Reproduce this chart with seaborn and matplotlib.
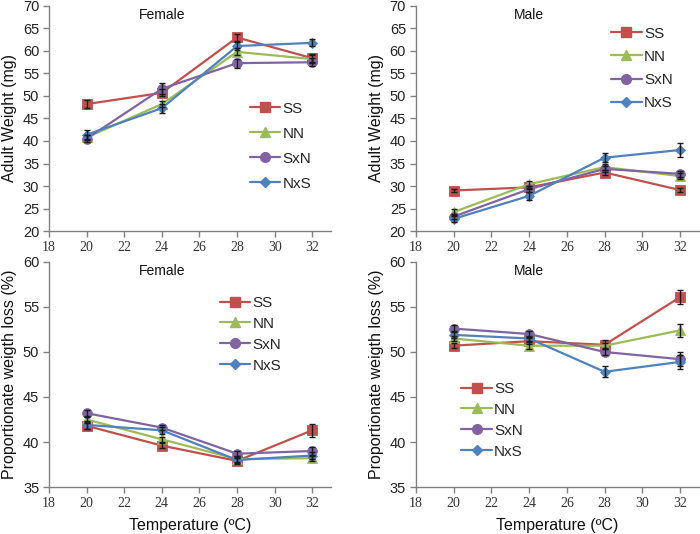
import numpy as np
import pandas as pd
import matplotlib
matplotlib.use("Agg")
import matplotlib.pyplot as plt
import seaborn as sns

temps = [20, 24, 28, 32]
genotypes = ["SS", "NN", "SxN", "NxS"]

# Adult weight (mg)
fw_SS = [48.2, 50.7, 63.0, 58.4]
fw_NN = [40.8, 48.2, 59.8, 58.2]
fw_SxN = [40.5, 51.6, 57.3, 57.5]
fw_NxS = [41.4, 47.3, 61.1, 61.8]
fw_err_SS = [0.8, 0.8, 0.8, 0.9]
fw_err_NN = [0.6, 0.7, 0.8, 0.8]
fw_err_SxN = [0.8, 1.2, 1.0, 0.9]
fw_err_NxS = [1.0, 1.0, 0.8, 0.8]

mw_SS = [29.0, 29.7, 33.0, 29.1]
mw_NN = [24.2, 30.4, 34.2, 32.2]
mw_SxN = [23.2, 29.3, 33.8, 32.7]
mw_NxS = [22.7, 27.8, 36.3, 38.0]
mw_err_SS = [0.4, 0.4, 0.5, 0.5]
mw_err_NN = [0.6, 0.8, 0.6, 0.7]
mw_err_SxN = [0.5, 0.6, 0.6, 0.6]
mw_err_NxS = [0.6, 0.8, 1.0, 1.6]

# Proportionate weight loss (%)
fl_SS = [41.8, 39.6, 37.9, 41.3]
fl_NN = [42.5, 40.3, 38.1, 38.2]
fl_SxN = [43.2, 41.6, 38.7, 39.0]
fl_NxS = [41.9, 41.3, 38.0, 38.5]
fl_err_SS = [0.4, 0.3, 0.3, 0.7]
fl_err_NN = [0.4, 0.3, 0.3, 0.3]
fl_err_SxN = [0.4, 0.3, 0.3, 0.4]
fl_err_NxS = [0.4, 0.4, 0.3, 0.4]

ml_SS = [50.7, 51.2, 50.8, 56.1]
ml_NN = [51.5, 50.7, 50.7, 52.4]
ml_SxN = [52.6, 52.0, 50.0, 49.2]
ml_NxS = [51.9, 51.5, 47.8, 48.9]
ml_err_SS = [0.3, 0.3, 0.5, 0.8]
ml_err_NN = [0.3, 0.4, 0.3, 0.7]
ml_err_SxN = [0.4, 0.3, 0.3, 0.8]
ml_err_NxS = [0.4, 0.3, 0.6, 0.8]

xticks = [18, 20, 22, 24, 26, 28, 30, 32]

colors = {"SS": "#C0504D", "NN": "#9BBB59", "SxN": "#8064A2", "NxS": "#4F81BD"}
markers = {"SS": "s", "NN": "^", "SxN": "o", "NxS": "D"}
msizes = {"SS": 7, "NN": 6.5, "SxN": 7, "NxS": 5}


def make_df(vals, errs):
    rows = []
    for g, v, e in zip(genotypes, vals, errs):
        for t, vv, ee in zip(temps, v, e):
            rows.append({"temp": t, "value": vv, "err": ee, "geno": g})
    return pd.DataFrame(rows)


panels = [
    dict(df=make_df([fw_SS, fw_NN, fw_SxN, fw_NxS], [fw_err_SS, fw_err_NN, fw_err_SxN, fw_err_NxS]),
         pos=[0.070, 0.5674, 0.403, 0.4214], ylim=(20, 70), yticks=np.arange(20, 71, 5),
         ylabel="Adult Weight (mg)", title="Female", title_y=68.0,
         leg=(0.357, 0.726), lsp=0.72, xlabel=False),
    dict(df=make_df([mw_SS, mw_NN, mw_SxN, mw_NxS], [mw_err_SS, mw_err_NN, mw_err_SxN, mw_err_NxS]),
         pos=[0.594, 0.5674, 0.4046, 0.4214], ylim=(20, 70), yticks=np.arange(20, 71, 5),
         ylabel="Adult Weight (mg)", title="Male", title_y=68.0,
         leg=(0.873, 0.872), lsp=0.6, xlabel=False),
    dict(df=make_df([fl_SS, fl_NN, fl_SxN, fl_NxS], [fl_err_SS, fl_err_NN, fl_err_SxN, fl_err_NxS]),
         pos=[0.070, 0.088, 0.403, 0.4214], ylim=(35, 60), yticks=np.arange(35, 61, 5),
         ylabel="Proportionate weigth loss (%)", title="Female", title_y=59.0,
         leg=(0.314, 0.374), lsp=0.45, xlabel=True),
    dict(df=make_df([ml_SS, ml_NN, ml_SxN, ml_NxS], [ml_err_SS, ml_err_NN, ml_err_SxN, ml_err_NxS]),
         pos=[0.594, 0.088, 0.4046, 0.4214], ylim=(35, 60), yticks=np.arange(35, 61, 5),
         ylabel="Proportionate weigth loss (%)", title="Male", title_y=59.0,
         leg=(0.659, 0.213), lsp=0.45, xlabel=True),
]

sns.set_theme(style="ticks")
plt.rcParams["font.family"] = ["Liberation Sans", "DejaVu Sans"]

fig = plt.figure(figsize=(7.0, 5.34), dpi=100)
spine_col = "#808080"

for p in panels:
    ax = fig.add_axes(p["pos"])
    df = p["df"]
    sns.lineplot(data=df, x="temp", y="value", hue="geno", style="geno",
                 hue_order=genotypes, style_order=genotypes,
                 palette=colors, markers=markers, dashes=False,
                 linewidth=1.6, markeredgewidth=0.6, ax=ax, legend=False, zorder=2)
    for line, g in zip(ax.lines, genotypes):
        line.set_markersize(msizes[g])
        line.set_markeredgecolor(colors[g])
    for g in genotypes:
        sub = df[df.geno == g]
        ax.errorbar(sub["temp"], sub["value"], yerr=sub["err"], fmt="none",
                    ecolor="#1a1a1a", elinewidth=1.0, capsize=2.5, capthick=1.0, zorder=3)
    ax.set_xlim(18, 33)
    ax.set_ylim(*p["ylim"])
    ax.set_xticks(xticks)
    ax.set_yticks(p["yticks"])
    ax.set_xticklabels([str(t) for t in xticks], fontfamily="Liberation Serif",
                       fontsize=10, color="#333333")
    ax.set_yticklabels([str(int(t)) for t in p["yticks"]], fontsize=10.5, color="#222222")
    for s in ["top", "right"]:
        ax.spines[s].set_visible(False)
    for s in ["left", "bottom"]:
        ax.spines[s].set_color(spine_col)
        ax.spines[s].set_linewidth(1.0)
    ax.tick_params(axis="both", direction="out", length=4, width=1.0, color=spine_col, pad=3)
    ax.set_ylabel(p["ylabel"], fontsize=11.5, color="#111111", labelpad=4)
    if p["xlabel"]:
        ax.set_xlabel("Temperature (ºC)", fontsize=11.5, color="#111111", labelpad=6)
    else:
        ax.set_xlabel("")
    ax.text(24, p["title_y"], p["title"], ha="center", va="center", fontsize=10, color="#111111")

    handles = [plt.Line2D([], [], color=colors[g], marker=markers[g], markersize=msizes[g],
                          linewidth=1.6, markeredgecolor=colors[g]) for g in genotypes]
    fig.legend(handles, genotypes, loc="center left", bbox_to_anchor=p["leg"],
               bbox_transform=fig.transFigure, frameon=False, fontsize=11,
               handlelength=2.0, handletextpad=0.15, labelspacing=p["lsp"],
               borderpad=0, borderaxespad=0)

fig.savefig("out.png", dpi=100)
